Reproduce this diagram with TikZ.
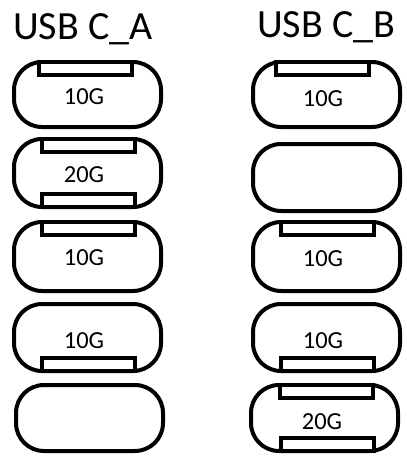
\documentclass[tikz,border=0pt]{standalone}
\usepackage{fontspec}
\setmainfont{Carlito}
\begin{document}
\begin{tikzpicture}[x=1pt,y=-1pt,
  port/.style={draw=black, line width=4pt, rounded corners=28pt,
    minimum width=147pt, outer sep=0pt, inner sep=0pt},
  tab/.style={draw=black, fill=white, line width=3.5pt,
    minimum width=93pt, minimum height=13pt, outer sep=0pt, inner sep=0pt},
  speed/.style={font=\fontsize{24.5}{24.5}\selectfont, inner sep=0pt},
  title/.style={font=\fontsize{40}{40}\selectfont, inner sep=0pt, anchor=base west}]
\useasboundingbox (0,0) rectangle (407,456);

% column titles
\node[title] (ta) at (13,39) {USB C\_A};
\node[title] (tb) at (257,37) {USB C\_B};

% left column of ports
\node[port, minimum height=65pt] (a1) at (87.5,94.5) {};
\node[port, minimum height=68pt] (a2) at (87.5,173) {};
\node[port, minimum height=69pt] (a3) at (87.5,256.5) {};
\node[port, minimum height=67pt] (a4) at (87.5,337.5) {};
\node[port, minimum height=66pt] (a5) at (89.5,418) {};

% right column of ports
\node[port, minimum height=65pt] (b1) at (326.5,94.5) {};
\node[port, minimum height=67pt] (b2) at (326.5,177.5) {};
\node[port, minimum height=69pt] (b3) at (326.5,256.5) {};
\node[port, minimum height=67pt] (b4) at (326.5,337.5) {};
\node[port, minimum height=66pt] (b5) at (324.5,418) {};

% contact tabs
\node[tab, anchor=north] (a1t) at ([xshift=-2pt]a1.north) {};
\node[tab, anchor=north] (a2t) at ([xshift=1pt]a2.north) {};
\node[tab, anchor=south] (a2b) at ([xshift=1pt]a2.south) {};
\node[tab, anchor=north] (a3t) at ([xshift=1pt]a3.north) {};
\node[tab, anchor=south] (a4b) at ([xshift=1pt]a4.south) {};

\node[tab, anchor=north] (b1t) at ([xshift=-4pt]b1.north) {};
\node[tab, anchor=north] (b3t) at ([xshift=1pt]b3.north) {};
\node[tab, anchor=south] (b4b) at ([xshift=1pt]b4.south) {};
\node[tab, anchor=north] (b5t) at ([xshift=2pt]b5.north) {};
\node[tab, anchor=south] (b5b) at ([xshift=3pt]b5.south) {};

% speed labels
\node[speed] (a1s) at (84,97) {10G};
\node[speed] (a2s) at (84,175) {20G};
\node[speed] (a3s) at (84,258) {10G};
\node[speed] (a4s) at (84,340.5) {10G};

\node[speed] (b1s) at (323,99) {10G};
\node[speed] (b3s) at (323,258.5) {10G};
\node[speed] (b4s) at (323,341) {10G};
\node[speed] (b5s) at (322,422) {20G};
\end{tikzpicture}
\end{document}
